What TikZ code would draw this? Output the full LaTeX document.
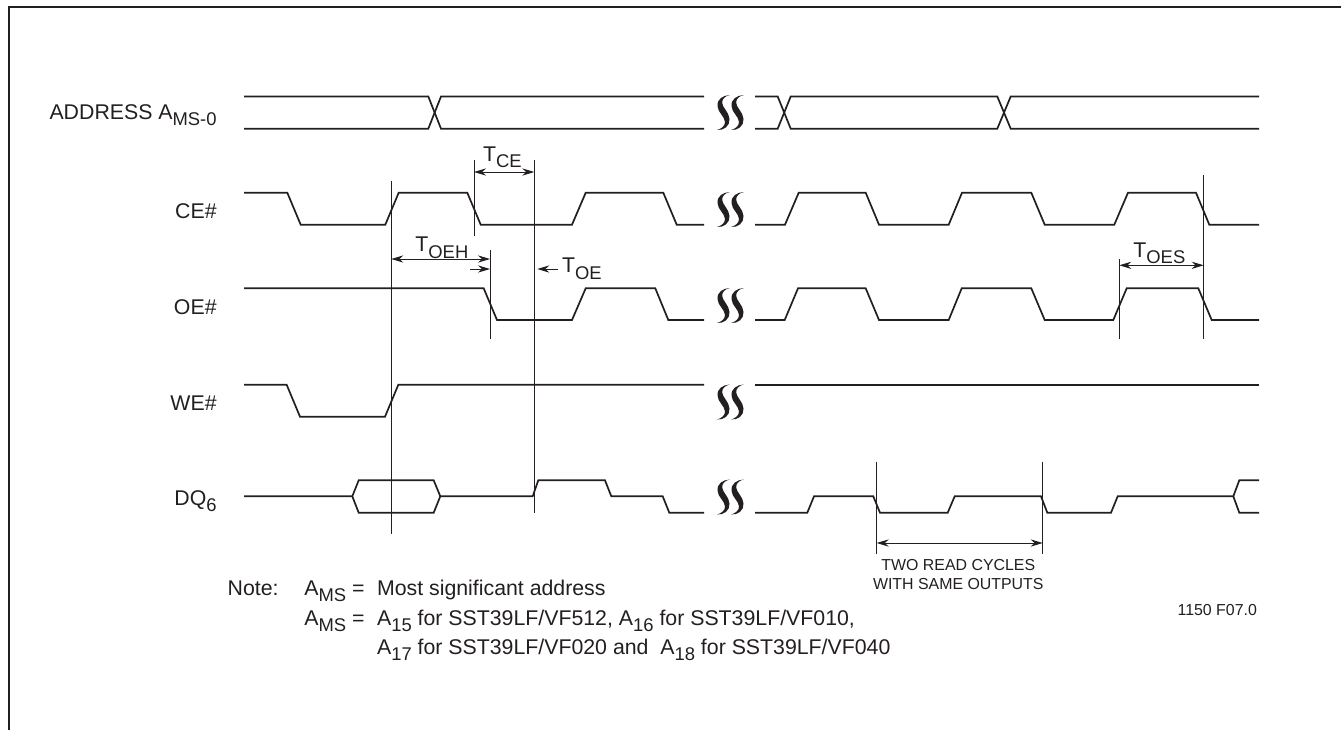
\documentclass[tikz,border=0pt]{standalone}
\usepackage{fontspec}
\setmainfont{Liberation Sans}
\usetikzlibrary{arrows.meta}
\definecolor{inkdark}{HTML}{231F20}
\newcommand{\lowtxt}[1]{\raisebox{-3.2pt}{\fontsize{9.2}{9.2}\selectfont #1}}
\tikzset{
	wave/.style={draw=inkdark, line width=0.85pt, line join=miter},
	cursor/.style={draw=inkdark, line width=0.5pt},
	dim/.style={draw=inkdark, line width=0.45pt, >={Stealth[length=6pt,width=3.6pt]}},
	lbl/.style={inner sep=0, text=inkdark, font=\fontsize{10.65}{12}\selectfont},
	smalllbl/.style={inner sep=0, text=inkdark, font=\fontsize{7.95}{9}\selectfont},
	sbreak/.pic={
		\foreach \dx in {0, 14}
			\fill [inkdark, xshift=\dx*0.5pt] (12.8,0) .. controls (6,0.3) and (0,4) .. (0.5,11)
				.. controls (1,18) and (7.5,21) .. (8,27)
				.. controls (8.2,31) and (4,34) .. (0,35)
				.. controls (7,35.5) and (13,31) .. (12.5,24)
				.. controls (12,17) and (5.6,13) .. (5.2,8)
				.. controls (4.9,4) and (8,1) .. (12.8,0) -- cycle;
	}
}
\begin{document}
\begin{tikzpicture}[x=0.5pt, y=-0.5pt]
	\useasboundingbox (0, 0) rectangle (1341, 730);
	% outer frame, open at two sides
	\draw [inkdark, line width=1.2pt] (9, 730) -- (9, 7) -- (1341, 7);
	% signal names
	\node [lbl, anchor=base east] (addr) at (217, 119.5) {ADDRESS A\lowtxt{MS-0}};
	\node [lbl, anchor=base east] (ce) at (217, 218) {CE\#};
	\node [lbl, anchor=base east] (oe) at (217, 314) {OE\#};
	\node [lbl, anchor=base east] (we) at (217, 410) {WE\#};
	\node [lbl, anchor=base east] (dq) at (217, 505) {DQ\lowtxt{6}};
	% draw address
	\draw [wave] (244, 96.5) -- (428.3, 96.5) -- (441, 128.7) -- (704, 128.7);
	\draw [wave] (244, 128.7) -- (428.3, 128.7) -- (441, 96.5) -- (704, 96.5);
	\draw [wave] (755, 96.5) -- (777.7, 96.5) -- (790.7, 128.7) -- (997.3, 128.7) -- (1010.7, 96.5) -- (1259, 96.5);
	\draw [wave] (755, 128.7) -- (777.7, 128.7) -- (790.7, 96.5) -- (997.3, 96.5) -- (1010.7, 128.7) -- (1259, 128.7);
	% draw ce
	\draw [wave] (244, 192.7) -- (287.3, 192.7) -- (300.7, 224.7) -- (385.3, 224.7) -- (398.7, 192.7) -- (467.3, 192.7) -- (480.7, 224.7) -- (572, 224.7) -- (585.7, 192.7) -- (663.3, 192.7) -- (676.7, 224.7) -- (704, 224.7);
	\draw [wave] (755, 224.7) -- (785, 224.7) -- (798.7, 192.7) -- (865.7, 192.7) -- (879, 224.7) -- (948.7, 224.7) -- (962, 192.7) -- (1031.3, 192.7) -- (1044.7, 224.7) -- (1114.3, 224.7) -- (1128, 192.7) -- (1196, 192.7) -- (1209.3, 224.7) -- (1259, 224.7);
	% draw oe
	\draw [wave] (244, 288.3) -- (483.7, 288.3) -- (497, 320) -- (572, 320) -- (585.7, 288.3) -- (655.3, 288.3) -- (668.3, 320) -- (704, 320);
	\draw [wave] (755, 320) -- (784.7, 320) -- (798, 288.3) -- (865.7, 288.3) -- (879, 320) -- (948.7, 320) -- (961.7, 288.3) -- (1031.3, 288.3) -- (1044.7, 320) -- (1113.3, 320) -- (1126.7, 288.3) -- (1198.3, 288.3) -- (1211.7, 320) -- (1259, 320);
	% draw we
	\draw [wave] (244, 384.8) -- (286.7, 384.8) -- (300, 416.7) -- (385, 416.7) -- (398.3, 384.8) -- (704, 384.8);
	\draw [wave] (755, 384.8) -- (1259, 384.8);
	% draw dq
	\draw [wave] (244, 496.3) -- (352.3, 496.3) -- (358.7, 480.3) -- (433.7, 480.3) -- (440.3, 496.3) -- (532.7, 496.3) -- (538.3, 480.3) -- (605, 480.3) -- (611.3, 496.3) -- (662.7, 496.3) -- (669.3, 512.7) -- (704, 512.7);
	\draw [wave] (352.3, 496.3) -- (358.7, 512.7) -- (433.7, 512.7) -- (440.3, 496.3);
	\draw [wave] (755, 512.7) -- (807.3, 512.7) -- (814, 496.3) -- (873.3, 496.3) -- (880, 512.7) -- (947.7, 512.7) -- (954.7, 496.3) -- (1041, 496.3) -- (1047.3, 512.7) -- (1111, 512.7) -- (1117.7, 496.3) -- (1233.3, 496.3) -- (1239.3, 480.3) -- (1259, 480.3);
	\draw [wave] (1233.3, 496.3) -- (1239.3, 512.7) -- (1259, 512.7);
	% breaks in the time axis
	\foreach \y in {95, 192, 288, 384.5, 479.5}
		\pic at (717, \y) {sbreak};
	% cursor lines
	\coordinate (c1t) at (391.3, 181);
	\coordinate (c1b) at (391.3, 534.3);
	\coordinate (c2t) at (474, 160);
	\coordinate (c2b) at (474, 235.7);
	\coordinate (c3t) at (534.3, 160);
	\coordinate (c3b) at (534.3, 512.7);
	\coordinate (c4t) at (490, 250);
	\coordinate (c4b) at (490, 338.7);
	\coordinate (c5t) at (1119.3, 259.3);
	\coordinate (c5b) at (1119.3, 339.3);
	\coordinate (c6t) at (1203.7, 175);
	\coordinate (c6b) at (1203.7, 339.3);
	\coordinate (c7t) at (876.7, 461.7);
	\coordinate (c7b) at (876.7, 554.3);
	\coordinate (c8t) at (1042.7, 461.7);
	\coordinate (c8b) at (1042.7, 554.3);
	\foreach \c in {1, ..., 8}
		\draw [cursor] (c\c t) -- (c\c b);
	% timing arrows
	\coordinate (rowce) at (0, 172);
	\coordinate (rowoeh) at (0, 259);
	\coordinate (rowoe) at (0, 269);
	\coordinate (rowoes) at (0, 265.3);
	\coordinate (rowtwo) at (0, 543);
	\coordinate (oetail) at (558, 269);
	\coordinate (oehtail) at (470, 269);
	\draw [dim, <->] (c2t |- rowce) -- (c3t |- rowce);
	\draw [dim, <->] (c1t |- rowoeh) -- (c4t |- rowoeh);
	\draw [dim, ->] (oehtail) -- (c4t |- rowoe);
	\draw [dim, ->] (oetail) -- ([xshift=1.5pt]c3t |- rowoe);
	\draw [dim, <->] (c5t |- rowoes) -- (c6t |- rowoes);
	\draw [dim, <->] (c7t |- rowtwo) -- (c8t |- rowtwo);
	\node [lbl, anchor=base west] (tce) at (482.7, 161) {T\lowtxt{CE}};
	\node [lbl, anchor=base west] (toeh) at (415, 251.7) {T\lowtxt{OEH}};
	\node [lbl, anchor=base west] (toe) at (561.7, 272.7) {T\lowtxt{OE}};
	\node [lbl, anchor=base west] (toes) at (1133, 257) {T\lowtxt{OES}};
	\node [smalllbl, anchor=base] (two1) at (958.3, 570) {TWO READ CYCLES};
	\node [smalllbl, anchor=base] (two2) at (958.3, 589) {WITH SAME OUTPUTS};
	\node [smalllbl, anchor=base east] (figno) at (1257.3, 615) {1150 F07.0};
	% note below the chart
	\node [lbl, anchor=base west] (note) at (227.3, 595) {Note:};
	\node [lbl, anchor=base west] (ams1) at (304, 595) {A\lowtxt{MS} =};
	\node [lbl, anchor=base west] (ams2) at (304, 625.3) {A\lowtxt{MS} =};
	\node [lbl, anchor=base west] (msb) at (376.7, 595) {Most significant address};
	\node [lbl, anchor=base west] (parts1) at (376.7, 625.3) {A\lowtxt{15} for SST39LF/VF512, A\lowtxt{16} for SST39LF/VF010,};
	\node [lbl, anchor=base west] (parts2) at (376.7, 654) {A\lowtxt{17} for SST39LF/VF020 and\ \ A\lowtxt{18} for SST39LF/VF040};
\end{tikzpicture}
\end{document}
